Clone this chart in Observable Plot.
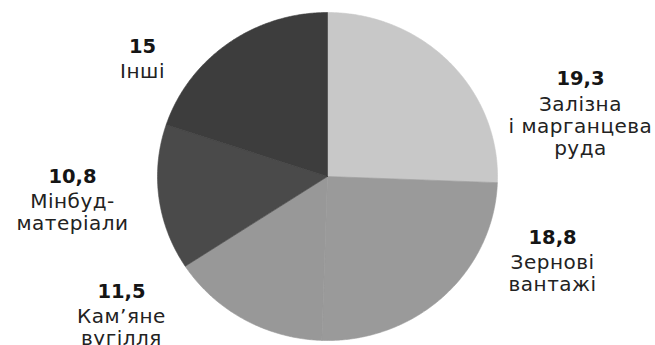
<!DOCTYPE html>
<html><head><meta charset="utf-8">
<script src="https://cdn.jsdelivr.net/npm/d3@7"></script>
<script src="https://cdn.jsdelivr.net/npm/@observablehq/plot@0.6"></script>
<style>body{margin:0;background:#fff;overflow:hidden}</style>
</head><body><div id="chart"></div>
<script>
// ---- data ----
const categories = ["Залізна\nі марганцева\nруда", "Зернові\nвантажі", "Кам’яне\nвугілля", "Мінбуд-\nматеріали", "Інші"];
const values = [19.3, 18.8, 11.5, 10.8, 15];
const valueLabels = ["19,3", "18,8", "11,5", "10,8", "15"];
const colors = ["#c8c8c8", "#9a9a9a", "#989898", "#4a4a4a", "#3d3d3d"];
// label anchor layout (in pie-radius units, pie radius = 1)
const labelAnchors = [[1.488, 0.555], [1.324, -0.409], [-1.212, -0.738], [-1.5, -0.037], [-1.088, 0.756]];

const arcs = d3.pie().sort(null).value(d => d)(values);
const slices = arcs.flatMap((a, i) => {
  const n = Math.max(2, Math.ceil((a.endAngle - a.startAngle) / 0.01));
  const pts = [{i, x: 0, y: 0}];
  for (let k = 0; k <= n; k++) {
    const t = a.startAngle + (a.endAngle - a.startAngle) * k / n;
    pts.push({i, x: Math.sin(t), y: Math.cos(t)});
  }
  pts.push({i, x: 0, y: 0});
  return pts;
});
const labels = values.map((v, i) => ({i, x: labelAnchors[i][0], y: labelAnchors[i][1], num: valueLabels[i], name: categories[i]}));

const font = "'DejaVu Sans', sans-serif";
const chart = Plot.plot({
  width: 655,
  height: 345,
  x: {domain: [-1, 1], range: [157, 497], axis: null},
  y: {domain: [-1, 1], range: [340, 12], axis: null},
  color: {type: "identity"},
  style: {fontFamily: font, background: "#fff", overflow: "hidden"},
  marks: [
    Plot.line(slices, {x: "x", y: "y", z: "i", fill: d => colors[d.i], stroke: d => colors[d.i], strokeWidth: 0.6, curve: "linear"}),
    Plot.text(labels, {x: "x", y: "y", text: "num", lineAnchor: "bottom", fontSize: 19.5, fontWeight: 700, fill: "#151515"}),
    Plot.text(labels, {x: "x", y: "y", text: "name", lineAnchor: "top", dy: 9.5, lineHeight: 1.1, fontSize: 20, fill: "#222", style: "letter-spacing:0.5px"})
  ]
});
document.getElementById("chart").append(chart);
chart.querySelectorAll("text").forEach(t => { if (t.getAttribute("font-weight") !== "700" && !t.closest('[font-weight="700"]')) t.style.letterSpacing = "0.5px"; });
</script>
</body></html>
